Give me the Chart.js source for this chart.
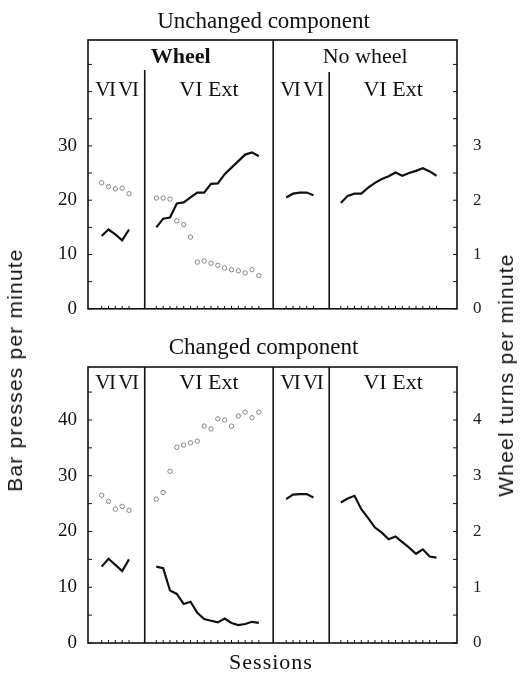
<!DOCTYPE html>
<html>
<head>
<meta charset="utf-8">
<script src="https://cdn.jsdelivr.net/npm/chart.js@4.4.1/dist/chart.umd.min.js"></script>
<style>
  html, body { margin: 0; padding: 0; background: #fff; }
  #wrap { position: relative; width: 527px; height: 673px; overflow: hidden; color: #111; }
  #topChart { position: absolute; left: 0; top: 0; }
  #bottomChart { position: absolute; left: 0; top: 330px; }
  .axis-title {
    position: absolute; white-space: nowrap;
    font-family: "Liberation Sans", sans-serif; font-size: 21px; letter-spacing: 1.2px;
    transform: translate(-50%, -50%) rotate(-90deg);
  }
  #xTitle { font-family: "Liberation Serif", serif; font-size: 22px; letter-spacing: 1px; transform: translate(-50%, -50%); }
</style>
</head>
<body>
<div id="wrap">
  <canvas id="topChart" width="527" height="335"></canvas>
  <canvas id="bottomChart" width="527" height="343"></canvas>
  <div class="axis-title" style="left:15px; top:370px;">Bar presses per minute</div>
  <div class="axis-title" style="left:506px; top:375px;">Wheel turns per minute</div>
  <div class="axis-title" id="xTitle" style="left:271px; top:662px;">Sessions</div>
</div>
<script>
// session positions of each phase
const wheelBaseSessions = [2, 3, 4, 5, 6];
const wheelExtSessions = [10, 11, 12, 13, 14, 15, 16, 17, 18, 19, 20, 21, 22, 23, 24, 25];
const noWheelBaseSessions = [29, 30, 31, 32, 33];
const noWheelExtSessions = [37, 38, 39, 40, 41, 42, 43, 44, 45, 46, 47, 48, 49, 50, 51];
const phaseBounds = [8.3, 27.1, 35.3];
const sessionRange = [0, 54];

// Unchanged component: bar presses per minute (line)
const unchWheelBasePresses = [13.4, 14.6, 13.7, 12.6, 14.6];
const unchWheelExtPresses = [15.0, 16.6, 16.8, 19.4, 19.6, 20.5, 21.4, 21.4, 23.0, 23.1, 24.8, 26.0, 27.2, 28.4, 28.8, 28.1];
const unchNoWheelBasePresses = [20.5, 21.2, 21.4, 21.4, 20.9];
const unchNoWheelExtPresses = [19.5, 20.8, 21.2, 21.2, 22.3, 23.2, 23.9, 24.4, 25.1, 24.5, 25.0, 25.4, 25.9, 25.3, 24.5];
// Unchanged component: wheel turns per minute (circles)
const unchWheelBaseTurns = [2.32, 2.25, 2.21, 2.22, 2.12];
const unchWheelExtTurns = [2.04, 2.04, 2.02, 1.62, 1.55, 1.32, 0.86, 0.88, 0.84, 0.80, 0.75, 0.72, 0.70, 0.66, 0.72, 0.61];

// Changed component: bar presses per minute (line)
const chWheelBasePresses = [13.7, 15.1, 14.0, 12.9, 15.0];
const chWheelExtPresses = [13.7, 13.4, 9.4, 8.8, 7.0, 7.4, 5.4, 4.3, 4.0, 3.7, 4.4, 3.6, 3.2, 3.4, 3.8, 3.6];
const chNoWheelBasePresses = [25.8, 26.6, 26.7, 26.7, 26.1];
const chNoWheelExtPresses = [25.2, 25.9, 26.4, 24.0, 22.4, 20.7, 19.8, 18.6, 19.1, 18.1, 17.1, 16.0, 16.8, 15.5, 15.3];
// Changed component: wheel turns per minute (circles)
const chWheelBaseTurns = [2.65, 2.54, 2.40, 2.45, 2.38];
const chWheelExtTurns = [2.58, 2.70, 3.08, 3.51, 3.55, 3.59, 3.62, 3.89, 3.84, 4.02, 4.00, 3.89, 4.07, 4.14, 4.04, 4.14];

// tick labels
const topPressTicks = [0, 10, 20, 30];
const topTurnTicks = [0, 1, 2, 3];
const bottomPressTicks = [0, 10, 20, 30, 40];
const bottomTurnTicks = [0, 1, 2, 3, 4];

const allSessions = [...wheelBaseSessions, ...wheelExtSessions, ...noWheelBaseSessions, ...noWheelExtSessions];
const pts = (xs, ys) => xs.map((x, i) => ({ x: x, y: ys[i] }));
const serif = '"Liberation Serif", "Times New Roman", serif';

function pressLine(xs, ys) {
  return {
    data: pts(xs, ys), yAxisID: 'y', showLine: true,
    borderColor: '#111', borderWidth: 2.2, pointRadius: 0, tension: 0, fill: false
  };
}
function turnDots(xs, ys) {
  return {
    data: pts(xs, ys), yAxisID: 'y1', showLine: false,
    pointRadius: 2.2, pointBorderWidth: 0.9,
    pointBorderColor: '#7a7a7a', pointBackgroundColor: 'rgba(0,0,0,0)'
  };
}

// frame, phase dividers, inward ticks and phase labels
const panelFrame = {
  id: 'panelFrame',
  afterDatasetsDraw(chart, args, opts) {
    const { ctx, chartArea: a, scales } = chart;
    const x = scales.x, y = scales.y, y1 = scales.y1;
    ctx.save();
    ctx.strokeStyle = '#111';
    ctx.lineWidth = 1;
    ctx.beginPath();
    allSessions.forEach(s => {
      const px = x.getPixelForValue(s);
      ctx.moveTo(px, a.bottom); ctx.lineTo(px, a.bottom - 3);
    });
    y.ticks.forEach(t => {
      const py = y.getPixelForValue(t.value);
      ctx.moveTo(a.left, py); ctx.lineTo(a.left + 4, py);
    });
    y1.ticks.forEach(t => {
      const py = y1.getPixelForValue(t.value);
      ctx.moveTo(a.right, py); ctx.lineTo(a.right - 4, py);
    });
    ctx.stroke();

    ctx.lineWidth = 1.6;
    ctx.strokeRect(a.left, a.top, a.width, a.height);
    opts.dividers.forEach(d => {
      const px = x.getPixelForValue(d.at);
      ctx.beginPath();
      ctx.moveTo(px, a.top + d.inset);
      ctx.lineTo(px, a.bottom);
      ctx.stroke();
    });

    ctx.fillStyle = '#111';
    ctx.textAlign = 'center';
    ctx.textBaseline = 'middle';
    opts.labels.forEach(l => {
      ctx.font = l.font;
      ctx.letterSpacing = l.spacing || '0px';
      ctx.fillText(l.text, x.getPixelForValue((l.from + l.to) / 2), a.top + l.dy);
    });
    ctx.restore();
  }
};

function makePanel(id, title, titlePad, padBottom, datasets, pressTicks, turnTicks, frame) {
  return new Chart(document.getElementById(id), {
    type: 'scatter',
    data: { datasets: datasets },
    plugins: [panelFrame],
    options: {
      responsive: false,
      animation: false,
      layout: { padding: { top: 0, left: 0, right: 0, bottom: padBottom } },
      plugins: {
        legend: { display: false },
        tooltip: { enabled: false },
        title: {
          display: true, text: title, color: '#111',
          font: { family: serif, size: 23, weight: 'normal' },
          padding: titlePad
        },
        panelFrame: frame
      },
      scales: {
        x: { type: 'linear', min: sessionRange[0], max: sessionRange[1], display: false },
        y: {
          position: 'left', min: 0, max: 49.5,
          afterBuildTicks: s => { s.ticks = s.ticks.filter(t => t.value % 5 === 0); },
          afterFit: s => { s.width = 88; },
          ticks: {
            stepSize: 5, autoSkip: false, padding: 11, color: '#111',
            font: { family: serif, size: 19 },
            callback: v => pressTicks.includes(v) ? String(v) : ''
          },
          grid: { display: false, drawTicks: false },
          border: { display: false }
        },
        y1: {
          position: 'right', min: 0, max: 4.95,
          afterBuildTicks: s => { s.ticks = s.ticks.filter(t => Math.abs(t.value * 2 - Math.round(t.value * 2)) < 1e-6); },
          afterFit: s => { s.width = 70; },
          ticks: {
            stepSize: 0.5, autoSkip: false, padding: 16, color: '#222',
            font: { family: serif, size: 17 },
            callback: v => turnTicks.includes(v) ? String(v) : ''
          },
          grid: { display: false, drawTicks: false },
          border: { display: false }
        }
      }
    }
  });
}

const big = '22px ' + serif;
const bigBold = 'bold 22px ' + serif;
const narrow = '21px ' + serif;

// Unchanged component
makePanel('topChart', 'Unchanged component', { top: 8, bottom: 4.4 }, 18, [
  pressLine(wheelBaseSessions, unchWheelBasePresses),
  pressLine(wheelExtSessions, unchWheelExtPresses),
  pressLine(noWheelBaseSessions, unchNoWheelBasePresses),
  pressLine(noWheelExtSessions, unchNoWheelExtPresses),
  turnDots(wheelBaseSessions, unchWheelBaseTurns),
  turnDots(wheelExtSessions, unchWheelExtTurns)
], topPressTicks, topTurnTicks, {
  dividers: [
    { at: phaseBounds[0], inset: 30 },
    { at: phaseBounds[1], inset: 0 },
    { at: phaseBounds[2], inset: 32 }
  ],
  labels: [
    { text: 'Wheel', from: sessionRange[0], to: phaseBounds[1], dy: 17, font: bigBold },
    { text: 'No wheel', from: phaseBounds[1], to: sessionRange[1], dy: 17, font: big },
    { text: 'VI VI', from: sessionRange[0], to: phaseBounds[0], dy: 50, font: narrow, spacing: '-1.5px' },
    { text: 'VI Ext', from: phaseBounds[0], to: phaseBounds[1], dy: 50, font: big },
    { text: 'VI VI', from: phaseBounds[1], to: phaseBounds[2], dy: 50, font: narrow, spacing: '-1.5px' },
    { text: 'VI Ext', from: phaseBounds[2], to: sessionRange[1], dy: 50, font: big }
  ]
});

// Changed component
makePanel('bottomChart', 'Changed component', { top: 4.2, bottom: 5.2 }, 30, [
  pressLine(wheelBaseSessions, chWheelBasePresses),
  pressLine(wheelExtSessions, chWheelExtPresses),
  pressLine(noWheelBaseSessions, chNoWheelBasePresses),
  pressLine(noWheelExtSessions, chNoWheelExtPresses),
  turnDots(wheelBaseSessions, chWheelBaseTurns),
  turnDots(wheelExtSessions, chWheelExtTurns)
], bottomPressTicks, bottomTurnTicks, {
  dividers: [
    { at: phaseBounds[0], inset: 0 },
    { at: phaseBounds[1], inset: 0 },
    { at: phaseBounds[2], inset: 0 }
  ],
  labels: [
    { text: 'VI VI', from: sessionRange[0], to: phaseBounds[0], dy: 16, font: narrow, spacing: '-1.5px' },
    { text: 'VI Ext', from: phaseBounds[0], to: phaseBounds[1], dy: 16, font: big },
    { text: 'VI VI', from: phaseBounds[1], to: phaseBounds[2], dy: 16, font: narrow, spacing: '-1.5px' },
    { text: 'VI Ext', from: phaseBounds[2], to: sessionRange[1], dy: 16, font: big }
  ]
});
</script>
</body>
</html>
